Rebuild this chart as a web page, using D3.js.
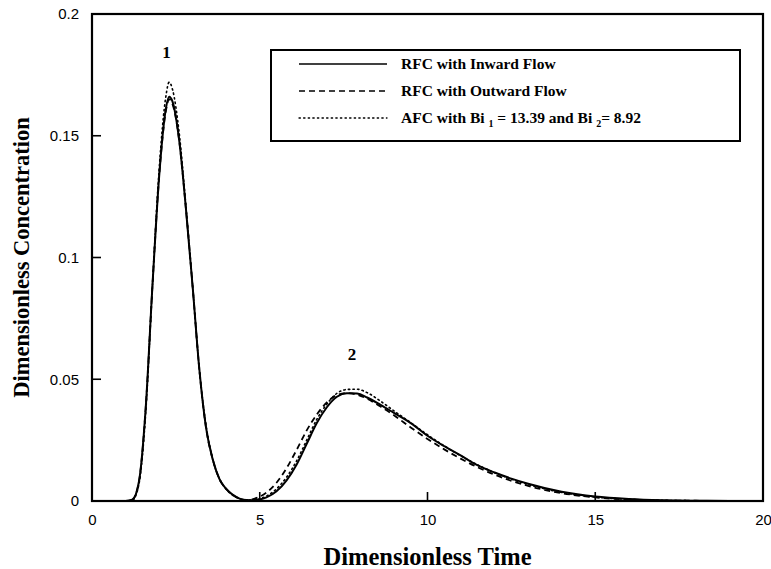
<!DOCTYPE html>
<html>
<head>
<meta charset="utf-8">
<script src="https://cdn.jsdelivr.net/npm/d3@7"></script>
<style>
  body { margin: 0; background: #fff; }
  svg { display: block; }
</style>
</head>
<body>
<svg id="chart" width="771" height="569"></svg>
<script>
const time = [0, 1.0, 1.2, 1.4, 1.6, 1.8, 2.0, 2.2, 2.3, 2.4, 2.6, 2.8, 3.0, 3.2, 3.4, 3.6, 3.8, 4.0, 4.2, 4.4, 4.6, 4.8,
  5.0, 5.2, 5.5, 5.8, 6.1, 6.4, 6.7, 7.0, 7.3, 7.6, 7.9, 8.2, 8.6, 9.0, 9.5, 10, 10.5, 11, 11.5, 12, 12.5, 13, 14, 15, 16, 17, 18, 19, 20];

const inwardFlow = [0, 0, 0.0005, 0.008, 0.038, 0.088, 0.133, 0.161, 0.166, 0.164, 0.148, 0.12, 0.088, 0.054, 0.03, 0.017, 0.009, 0.005, 0.0025, 0.001, 0.0004, 0.0003,
  0.0006, 0.0015, 0.004, 0.0085, 0.015, 0.0235, 0.032, 0.0385, 0.0428, 0.0443, 0.0441, 0.0425, 0.0395, 0.0362, 0.032, 0.0268, 0.0225, 0.0186, 0.0146, 0.0117, 0.0092, 0.0071, 0.0038, 0.0018, 0.0008, 0.0003, 0.0001, 0, 0];

const outwardFlow = [0, 0, 0.0005, 0.008, 0.038, 0.088, 0.133, 0.160, 0.165, 0.163, 0.148, 0.12, 0.088, 0.054, 0.03, 0.017, 0.009, 0.005, 0.0025, 0.001, 0.0004, 0.0008,
  0.0018, 0.0035, 0.0075, 0.0135, 0.021, 0.029, 0.0355, 0.0405, 0.0435, 0.0443, 0.0437, 0.042, 0.0388, 0.0352, 0.0302, 0.0255, 0.0212, 0.0173, 0.0138, 0.0108, 0.0083, 0.0062, 0.0032, 0.0015, 0.0006, 0.0002, 0.0001, 0, 0];

const afcModel = [0, 0, 0.0003, 0.007, 0.036, 0.088, 0.136, 0.166, 0.172, 0.169, 0.151, 0.121, 0.088, 0.054, 0.031, 0.017, 0.009, 0.0048, 0.0023, 0.001, 0.0004, 0.0004,
  0.0009, 0.002, 0.005, 0.0098, 0.0165, 0.025, 0.0335, 0.0398, 0.0442, 0.0458, 0.0459, 0.0445, 0.041, 0.037, 0.0322, 0.0272, 0.0226, 0.0185, 0.0148, 0.0116, 0.009, 0.0068, 0.0035, 0.0016, 0.0007, 0.0003, 0.0001, 0, 0];

const xTicks = [0, 5, 10, 15, 20];
const yTicks = [0, 0.05, 0.1, 0.15, 0.2];
const yTickLabels = ["0", "0.05", "0.1", "0.15", "0.2"];

const series = [
  {name: "RFC with Inward Flow", values: inwardFlow, dash: null, width: 2},
  {name: "RFC with Outward Flow", values: outwardFlow, dash: "6,4", width: 1.8},
  {name: "AFC", values: afcModel, dash: "1.4,3.2", width: 1.6}
];

const peakLabels = [{t: 2.22, v: 0.182, text: "1"}, {t: 7.75, v: 0.058, text: "2"}];

const margin = {left: 92, top: 14, right: 8, bottom: 68};
const width = 771, height = 569;

const svg = d3.select("#chart");

const x = d3.scaleLinear().domain([0, 20]).range([margin.left, width - margin.right]);
const y = d3.scaleLinear().domain([0, 0.2]).range([height - margin.bottom, margin.top]);

// frame
svg.append("rect")
  .attr("x", x(0)).attr("y", y(0.2))
  .attr("width", x(20) - x(0)).attr("height", y(0) - y(0.2))
  .attr("fill", "none").attr("stroke", "#000").attr("stroke-width", 2.2);

const xAxis = svg.append("g")
  .attr("transform", `translate(0,${y(0)})`)
  .call(d3.axisBottom(x).tickValues(xTicks).tickSize(0).tickPadding(13).tickFormat(d3.format("d")));
xAxis.select(".domain").remove();

svg.append("g").selectAll("line")
  .data(xTicks.slice(1, -1))
  .join("line")
    .attr("x1", d => x(d)).attr("x2", d => x(d))
    .attr("y1", y(0)).attr("y2", y(0) - 9)
    .attr("stroke", "#000").attr("stroke-width", 1.6);

const yAxis = svg.append("g")
  .attr("transform", `translate(${x(0)},0)`)
  .call(d3.axisLeft(y).tickValues(yTicks).tickSize(0).tickPadding(13).tickFormat((d, i) => yTickLabels[i]));
yAxis.select(".domain").remove();

svg.append("g").selectAll("line")
  .data(yTicks.slice(1, -1))
  .join("line")
    .attr("x1", x(0)).attr("x2", x(0) + 9)
    .attr("y1", d => y(d)).attr("y2", d => y(d))
    .attr("stroke", "#000").attr("stroke-width", 1.6);

svg.selectAll(".tick text")
  .attr("font-family", "Liberation Sans, Arial, sans-serif")
  .attr("font-size", 15)
  .attr("fill", "#000");

const line = d3.line()
  .x((d, i) => x(time[i]))
  .y(d => y(d))
  .curve(d3.curveMonotoneX);

svg.append("g").selectAll("path")
  .data(series)
  .join("path")
    .attr("d", d => line(d.values))
    .attr("fill", "none")
    .attr("stroke", "#000")
    .attr("stroke-width", d => d.width)
    .attr("stroke-linecap", d => d.dash && d.dash.startsWith("1.4") ? "round" : "butt")
    .attr("stroke-dasharray", d => d.dash);

svg.append("g").selectAll("text")
  .data(peakLabels)
  .join("text")
    .attr("x", d => x(d.t))
    .attr("y", d => y(d.v))
    .attr("text-anchor", "middle")
    .attr("font-family", "Liberation Serif, Times New Roman, serif")
    .attr("font-weight", "bold")
    .attr("font-size", 17)
    .text(d => d.text);

// axis titles
svg.append("text")
  .attr("x", (x(0) + x(20)) / 2)
  .attr("y", 565)
  .attr("text-anchor", "middle")
  .attr("font-family", "Liberation Serif, Times New Roman, serif")
  .attr("font-weight", "bold")
  .attr("font-size", 24.5)
  .text("Dimensionless Time");

svg.append("text")
  .attr("transform", `translate(29,${(y(0) + y(0.2)) / 2}) rotate(-90)`)
  .attr("text-anchor", "middle")
  .attr("font-family", "Liberation Serif, Times New Roman, serif")
  .attr("font-weight", "bold")
  .attr("font-size", 22.5)
  .text("Dimensionless Concentration");

// legend
const legend = svg.append("g");
legend.append("rect")
  .attr("x", 271).attr("y", 50).attr("width", 469).attr("height", 91)
  .attr("fill", "#fff").attr("stroke", "#000").attr("stroke-width", 2);

const rows = legend.selectAll("g")
  .data(series)
  .join("g")
    .attr("transform", (d, i) => `translate(0,${64 + i * 27})`);

rows.append("line")
  .attr("x1", 299).attr("x2", 387).attr("y1", 0).attr("y2", 0)
  .attr("stroke", "#000")
  .attr("stroke-width", d => d.width * 0.8)
  .attr("stroke-linecap", d => d.dash && d.dash.startsWith("1.4") ? "round" : "butt")
  .attr("stroke-dasharray", d => d.dash);

const legendText = rows.append("text")
  .attr("x", 401).attr("y", 5)
  .attr("font-family", "Liberation Serif, Times New Roman, serif")
  .attr("font-weight", "bold")
  .attr("font-size", 15.5);

legendText.filter((d, i) => i < 2).text(d => d.name);

const afcText = legendText.filter((d, i) => i === 2);
afcText.append("tspan").text("AFC with Bi ");
afcText.append("tspan").attr("font-size", 10).attr("dy", 4).text("1");
afcText.append("tspan").attr("dy", -4).text(" = 13.39 and Bi ");
afcText.append("tspan").attr("font-size", 10).attr("dy", 4).text("2");
afcText.append("tspan").attr("dy", -4).text("= 8.92");
</script>
</body>
</html>
